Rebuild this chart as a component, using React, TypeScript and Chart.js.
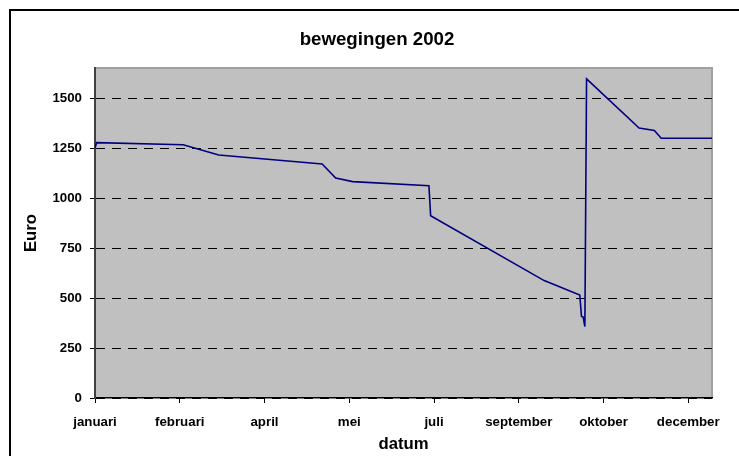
import React, { useEffect, useRef } from 'react';
import { Chart, registerables } from 'chart.js';

Chart.register(...registerables);

const titleText = 'bewegingen 2002';
const xAxisTitle = 'datum';
const yAxisTitle = 'Euro';

// day of year (0 = 1 januari) and balance in Euro at each turning point of the line
const dayIndex = [0, 1, 52, 73, 134, 142, 152, 197, 198, 265, 286, 287, 288, 289, 290, 321, 330, 334, 364];
const balance = [1250, 1277, 1266, 1215, 1170, 1100, 1082, 1061, 911, 587, 515, 408, 405, 357, 1596, 1350, 1338, 1299, 1299];

const monthTickDays = [0, 50, 100, 150, 200, 250, 300, 350];
const monthTickLabels = ['januari', 'februari', 'april', 'mei', 'juli', 'september', 'oktober', 'december'];
const yTickValues = [0, 250, 500, 750, 1000, 1250, 1500];
const yMax = 1650;
const dayMax = 364;

const FONT = '"Liberation Sans", Arial, Helvetica, sans-serif';

export default function App() {
  const ref = useRef<HTMLCanvasElement>(null);

  useEffect(() => {
    const canvas = ref.current;
    if (!canvas) return;

    const decor = {
      id: 'decor',
      beforeDraw(chart: any) {
        const { ctx, chartArea: a, width, height } = chart;
        ctx.save();
        ctx.fillStyle = '#ffffff';
        ctx.fillRect(0, 0, width, height);
        // outer chart frame
        ctx.fillStyle = '#000000';
        ctx.fillRect(9, 9, 2, height);
        ctx.fillRect(9, 9, width, 2);
        // plot area
        ctx.fillStyle = '#c0c0c0';
        ctx.fillRect(a.left, a.top, a.right - a.left, a.bottom - a.top);
        ctx.strokeStyle = '#a0a0a0';
        ctx.lineWidth = 2;
        ctx.beginPath();
        ctx.moveTo(a.left, a.top);
        ctx.lineTo(a.right, a.top);
        ctx.lineTo(a.right, a.bottom);
        ctx.stroke();
        // title
        ctx.font = `bold 18.7px ${FONT}`;
        ctx.fillStyle = '#000000';
        ctx.textAlign = 'center';
        ctx.textBaseline = 'middle';
        ctx.fillText(titleText, 377, 40);
        ctx.restore();
      },
    };

    const chart = new Chart(canvas, {
      type: 'line',
      data: {
        datasets: [
          {
            data: dayIndex.map((d, i) => ({ x: d, y: balance[i] })),
            borderColor: '#000080',
            borderWidth: 1.6,
            pointRadius: 0,
            tension: 0,
            fill: false,
          },
        ],
      },
      options: {
        animation: false,
        responsive: false,
        layout: { padding: { top: 68, right: 27, left: 0, bottom: 0 } },
        plugins: {
          legend: { display: false },
          tooltip: { enabled: false },
          title: { display: false },
        },
        scales: {
          x: {
            type: 'linear',
            min: 0,
            max: dayMax,
            afterBuildTicks: (s: any) => {
              s.ticks = monthTickDays.map((v) => ({ value: v }));
            },
            afterFit: (s: any) => {
              s.height = 58;
            },
            ticks: {
              autoSkip: false,
              maxRotation: 0,
              minRotation: 0,
              padding: 11.5,
              color: '#000000',
              font: { family: FONT, size: 13.3, weight: 'bold' },
              callback: (_v: any, i: number) => monthTickLabels[i],
            },
            grid: {
              drawOnChartArea: false,
              drawTicks: true,
              tickLength: 5,
              tickColor: '#000000',
              tickWidth: 1,
            },
            border: { display: true, color: '#000000', width: 1.5 },
            title: {
              display: true,
              text: xAxisTitle,
              color: '#000000',
              font: { family: FONT, size: 16.7, weight: 'bold' },
              padding: { top: 0, bottom: 2 },
            },
          },
          y: {
            type: 'linear',
            min: 0,
            max: yMax,
            afterBuildTicks: (s: any) => {
              s.ticks = yTickValues.map((v) => ({ value: v }));
            },
            afterFit: (s: any) => {
              s.width = 95;
            },
            ticks: {
              padding: 8,
              color: '#000000',
              font: { family: FONT, size: 13.3, weight: 'bold' },
              callback: (v: any) => String(v),
            },
            grid: {
              color: '#000000',
              lineWidth: 1,
              drawTicks: true,
              tickLength: 5,
              tickColor: '#000000',
              tickWidth: 1,
              tickBorderDash: [],
            },
            border: { display: true, color: '#404040', width: 2, dash: [9, 7] },
            title: {
              display: true,
              text: yAxisTitle,
              color: '#000000',
              font: { family: FONT, size: 16.7, weight: 'bold' },
              padding: { top: 21, bottom: 0 },
            },
          },
        },
      },
      plugins: [decor],
    } as any);

    return () => chart.destroy();
  }, []);

  return (
    <div style={{ position: 'fixed', left: 0, top: 0, width: 739, height: 456, background: '#fff' }}>
      <canvas ref={ref} width={739} height={456} style={{ display: 'block' }} />
    </div>
  );
}
